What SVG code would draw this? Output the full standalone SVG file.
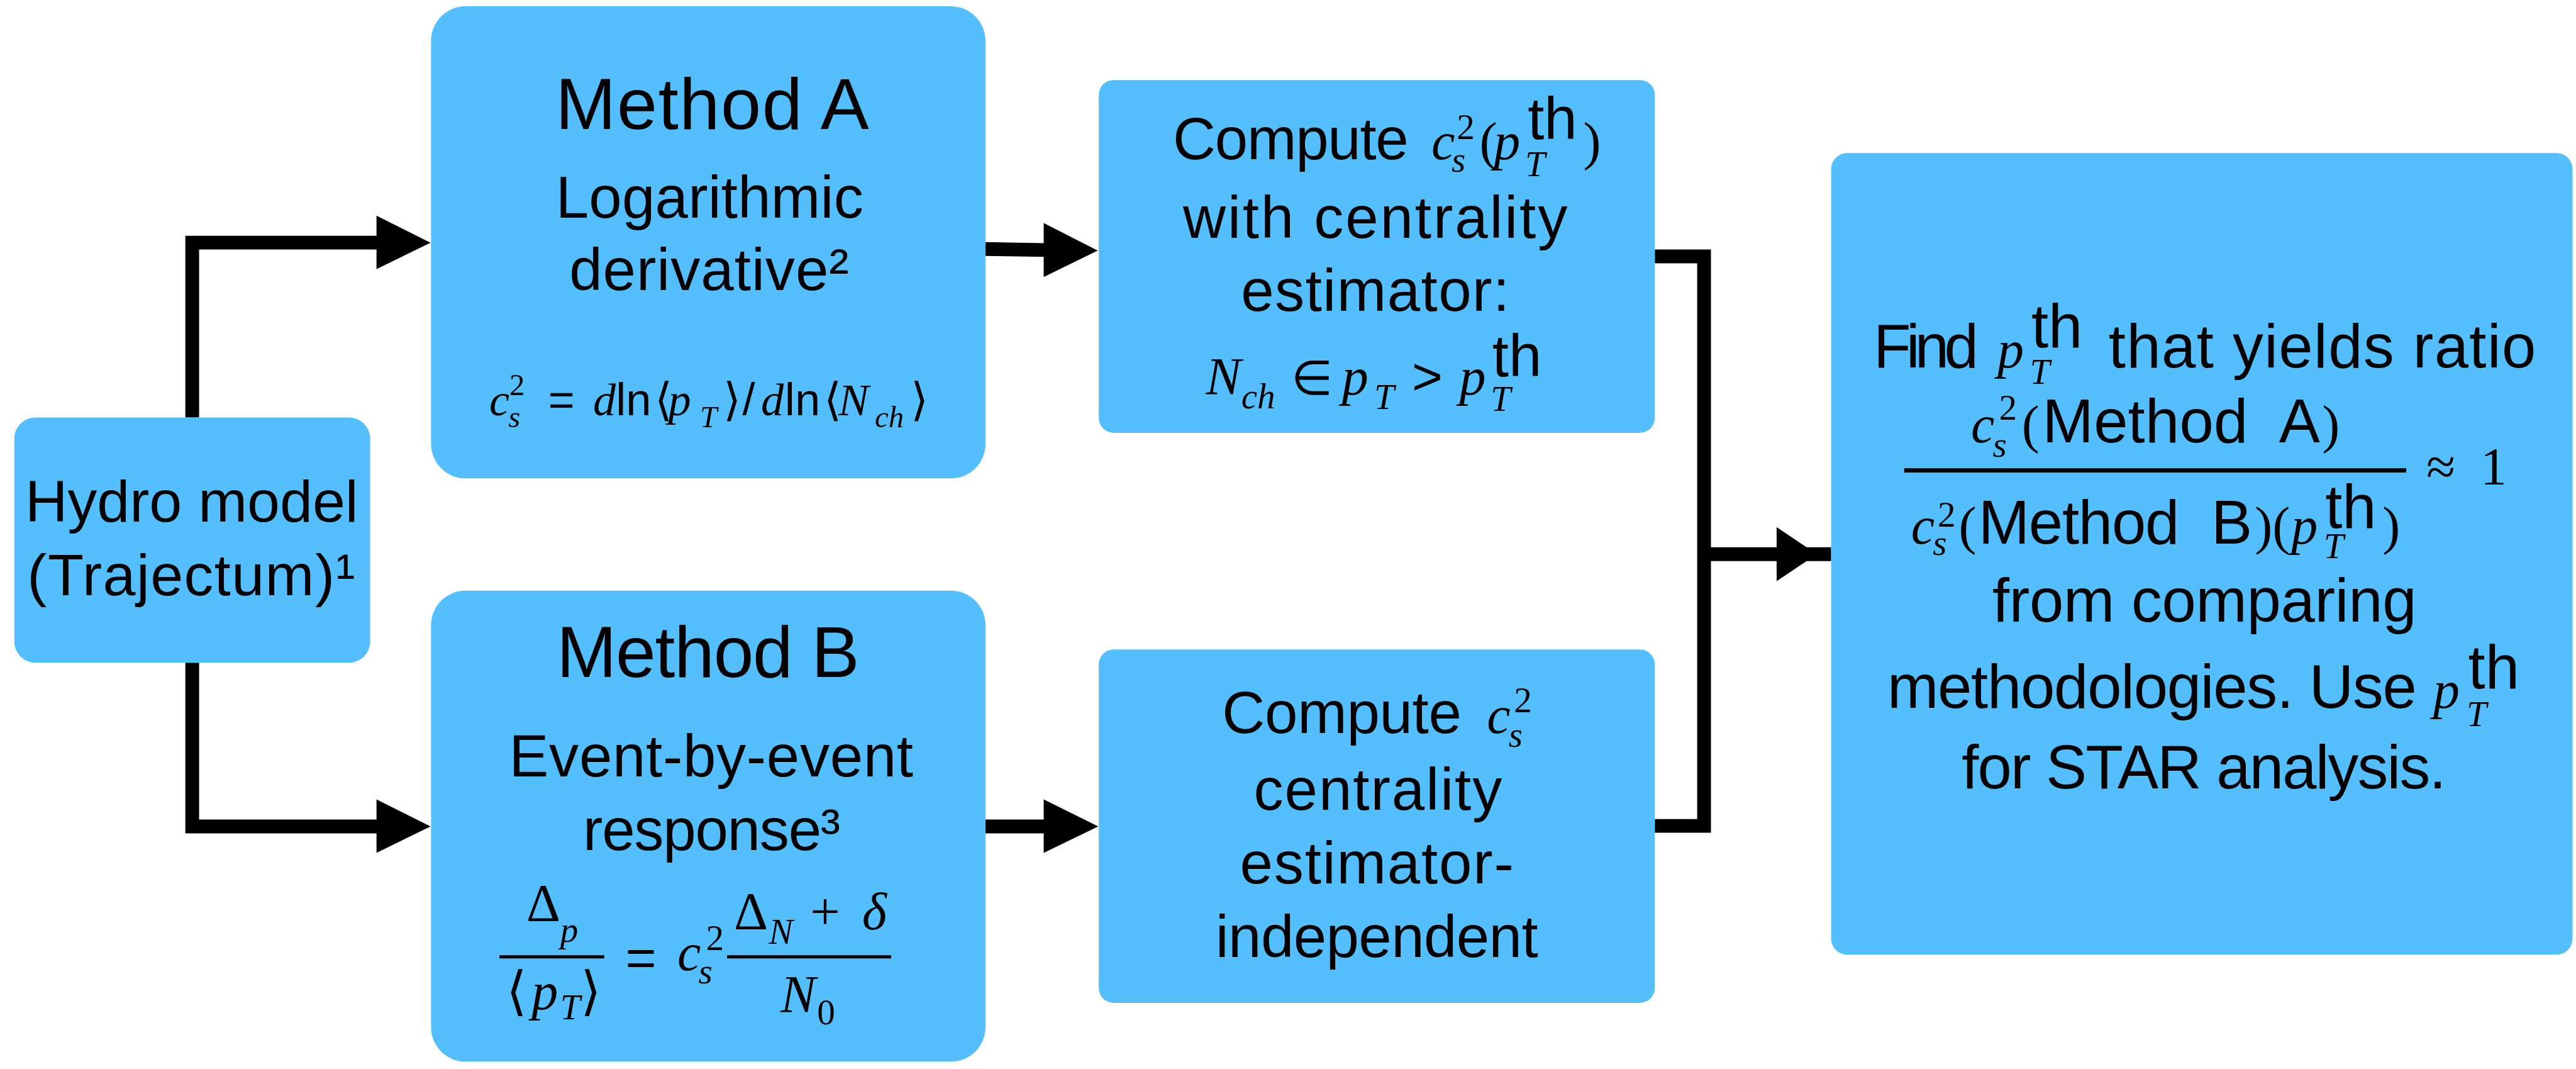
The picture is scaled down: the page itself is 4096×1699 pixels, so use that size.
<svg xmlns="http://www.w3.org/2000/svg" width="4096" height="1699" viewBox="0 0 4096 1699">
<style>
.box{fill:#55BFFE}
.t{font-family:"Liberation Sans",Arial,sans-serif;font-style:normal;fill:#000}
.i{font-family:"Liberation Serif","Times New Roman",serif;font-style:italic}
.r{font-family:"Liberation Serif","Times New Roman",serif;font-style:normal}
.wire{fill:none;stroke:#000;stroke-width:26;stroke-linejoin:miter;stroke-linecap:butt}
.head{fill:#000}
.bar{stroke:#000}
</style>
<rect width="4096" height="1699" fill="#fff"/>
<g transform="scale(0.842)">
<g id="connectors">
<path class="wire" d="M363,788 V458 H720"/>
<polygon class="head" points="711,407 813,458 711,508"/>
<path class="wire" d="M363,1251 V1560 H720"/>
<polygon class="head" points="711,1509 813,1560 711,1610"/>
<path class="wire" d="M1861,470 L1975,472"/>
<polygon class="head" points="1971,421 2073,473 1971,523"/>
<path class="wire" d="M1861,1560 H1975"/>
<polygon class="head" points="1971,1509 2074,1560 1971,1610"/>
<path class="wire" d="M3125,484 H3218 V1559 H3125"/>
<path class="wire" d="M3218,1046 H3458"/>
<polygon class="head" points="3355,995 3431,1046 3355,1097"/>
</g>
<g id="hydro">
<rect class="box" x="27" y="788" width="672" height="463" rx="40"/>
<text class="t" x="362" y="985" font-size="111" text-anchor="middle" textLength="629">Hydro model</text>
<text class="t" x="361" y="1124" font-size="111" text-anchor="middle" textLength="619">(Trajectum)¹</text>
</g>
<g id="methodA">
<rect class="box" x="814" y="12" width="1047" height="891" rx="65"/>
<text class="t" x="1345" y="244" font-size="137" text-anchor="middle" textLength="592">Method A</text>
<text class="t" x="1340" y="411" font-size="112" text-anchor="middle" textLength="581">Logarithmic</text>
<text class="t" x="1339" y="548" font-size="112" text-anchor="middle" textLength="528">derivative²</text>
<text class="t" font-size="86"><tspan class="i" x="924" y="784">c</tspan><tspan class="i" x="960" y="807" font-size="58">s</tspan><tspan class="r" x="962" y="746" font-size="58">2</tspan><tspan x="1035" y="784">=</tspan><tspan class="i" x="1120" y="784">d</tspan><tspan x="1163" y="784">ln</tspan><tspan class="r" x="1236" y="784">⟨</tspan><tspan class="i" x="1262" y="784">p</tspan><tspan class="i" x="1322" y="807" font-size="58">T</tspan><tspan class="r" x="1366" y="784">⟩</tspan><tspan x="1402" y="784">/</tspan><tspan class="i" x="1437" y="784">d</tspan><tspan x="1482" y="784">ln</tspan><tspan class="r" x="1556" y="784">⟨</tspan><tspan class="i" x="1583" y="784">N</tspan><tspan class="i" x="1652" y="807" font-size="58">ch</tspan><tspan class="r" x="1720" y="784">⟩</tspan></text>
</g>
<g id="methodB">
<rect class="box" x="814" y="1115" width="1047" height="889" rx="65"/>
<text class="t" x="1337" y="1278" font-size="136" text-anchor="middle" textLength="572">Method B</text>
<text class="t" x="1343" y="1465" font-size="112" text-anchor="middle" textLength="763">Event-by-event</text>
<text class="t" x="1344" y="1604" font-size="112" text-anchor="middle" textLength="486">response³</text>
<text class="t" font-size="100"><tspan class="r" x="994" y="1739">Δ</tspan><tspan class="i" x="1058" y="1778" font-size="68">p</tspan><tspan class="r" x="956" y="1905">⟨</tspan><tspan class="i" x="1004" y="1905">p</tspan><tspan class="i" x="1058" y="1924" font-size="68">T</tspan><tspan class="r" x="1096" y="1905">⟩</tspan><tspan x="1181" y="1842">=</tspan><tspan class="i" x="1279" y="1831">c</tspan><tspan class="i" x="1319" y="1856" font-size="68">s</tspan><tspan class="r" x="1333" y="1793" font-size="68">2</tspan><tspan class="r" x="1386" y="1754">Δ</tspan><tspan class="i" x="1452" y="1781" font-size="68">N</tspan><tspan class="r" x="1530" y="1754">+</tspan><tspan class="i" x="1628" y="1754">δ</tspan><tspan class="i" x="1474" y="1911">N</tspan><tspan class="r" x="1543" y="1934" font-size="68">0</tspan></text>
<line class="bar" x1="943" y1="1806" x2="1141" y2="1806" stroke-width="6"/>
<line class="bar" x1="1373" y1="1806" x2="1683" y2="1806" stroke-width="6"/>
</g>
<g id="compute1">
<rect class="box" x="2075" y="151" width="1050" height="666" rx="28"/>
<text class="t" font-size="112"><tspan x="2215" y="301" textLength="445">Compute</tspan><tspan class="i" x="2703" y="301" font-size="100">c</tspan><tspan class="i" x="2741" y="324" font-size="68">s</tspan><tspan class="r" x="2751" y="263" font-size="68">2</tspan><tspan class="r" x="2794" y="301" font-size="100">(</tspan><tspan class="i" x="2821" y="301" font-size="100">p</tspan><tspan class="i" x="2880" y="332" font-size="68">T</tspan><tspan x="2885" y="262">th</tspan><tspan class="r" x="2990" y="301" font-size="100">)</tspan></text>
<text class="t" x="2597" y="449" font-size="112" text-anchor="middle" textLength="726">with centrality</text>
<text class="t" x="2597" y="587" font-size="112" text-anchor="middle" textLength="507">estimator:</text>
<text class="t" font-size="100"><tspan class="i" x="2277" y="745">N</tspan><tspan class="i" x="2344" y="771" font-size="68">ch</tspan><tspan x="2438" y="745" font-size="90">∈</tspan><tspan class="i" x="2534" y="745">p</tspan><tspan class="i" x="2595" y="772" font-size="68">T</tspan><tspan x="2666" y="745">&gt;</tspan><tspan class="i" x="2756" y="745">p</tspan><tspan class="i" x="2815" y="776" font-size="68">T</tspan><tspan x="2818" y="710" font-size="112">th</tspan></text>
</g>
<g id="compute2">
<rect class="box" x="2075" y="1226" width="1050" height="667" rx="28"/>
<text class="t" font-size="112"><tspan x="2308" y="1384" textLength="452">Compute</tspan><tspan class="i" x="2808" y="1384" font-size="100">c</tspan><tspan class="i" x="2849" y="1410" font-size="68">s</tspan><tspan class="r" x="2859" y="1344" font-size="68">2</tspan></text>
<text class="t" x="2602" y="1528" font-size="112" text-anchor="middle" textLength="469">centrality</text>
<text class="t" x="2600" y="1668" font-size="112" text-anchor="middle" textLength="517">estimator-</text>
<text class="t" x="2600" y="1806" font-size="112" text-anchor="middle" textLength="609">independent</text>
</g>
<g id="result">
<rect class="box" x="3458" y="289" width="1400" height="1513" rx="30"/>
<text class="t" font-size="116"><tspan x="3538" y="694" textLength="198">Find</tspan><tspan class="i" x="3772" y="694" font-size="100">p</tspan><tspan class="i" x="3833" y="725" font-size="68">T</tspan><tspan x="3836" y="655">th</tspan><tspan x="3982" y="694" textLength="807">that yields ratio</tspan></text>
<text class="t" font-size="116"><tspan class="i" x="3722" y="835" font-size="100">c</tspan><tspan class="i" x="3763" y="862" font-size="68">s</tspan><tspan class="r" x="3775" y="792" font-size="68">2</tspan><tspan class="r" x="3818" y="835" font-size="100">(</tspan><tspan x="3857" y="835" textLength="524">Method&#160; A</tspan><tspan class="r" x="4385" y="835" font-size="100">)</tspan></text>
<line class="bar" x1="3596" y1="888" x2="4544" y2="888" stroke-width="8"/>
<text class="t r" font-size="100"><tspan x="4582" y="914">≈</tspan><tspan x="4684" y="914">1</tspan></text>
<text class="t" font-size="116"><tspan class="i" x="3609" y="1026" font-size="100">c</tspan><tspan class="i" x="3650" y="1048" font-size="68">s</tspan><tspan class="r" x="3659" y="994" font-size="68">2</tspan><tspan class="r" x="3699" y="1026" font-size="100">(</tspan><tspan x="3736" y="1026" textLength="517">Method&#160; B</tspan><tspan class="r" x="4258" y="1026" font-size="100">)(</tspan><tspan class="i" x="4327" y="1026" font-size="100">p</tspan><tspan class="i" x="4388" y="1054" font-size="68">T</tspan><tspan x="4391" y="997">th</tspan><tspan class="r" x="4499" y="1026" font-size="100">)</tspan></text>
<text class="t" x="4163" y="1173" font-size="116" text-anchor="middle" textLength="801">from comparing</text>
<text class="t" font-size="116"><tspan x="3564" y="1336" textLength="1000">methodologies. Use</tspan><tspan class="i" x="4595" y="1336" font-size="100">p</tspan><tspan class="i" x="4658" y="1370" font-size="68">T</tspan><tspan x="4661" y="1299">th</tspan></text>
<text class="t" x="4162" y="1488" font-size="116" text-anchor="middle" textLength="915">for STAR analysis.</text>
</g>
</g>
</svg>
